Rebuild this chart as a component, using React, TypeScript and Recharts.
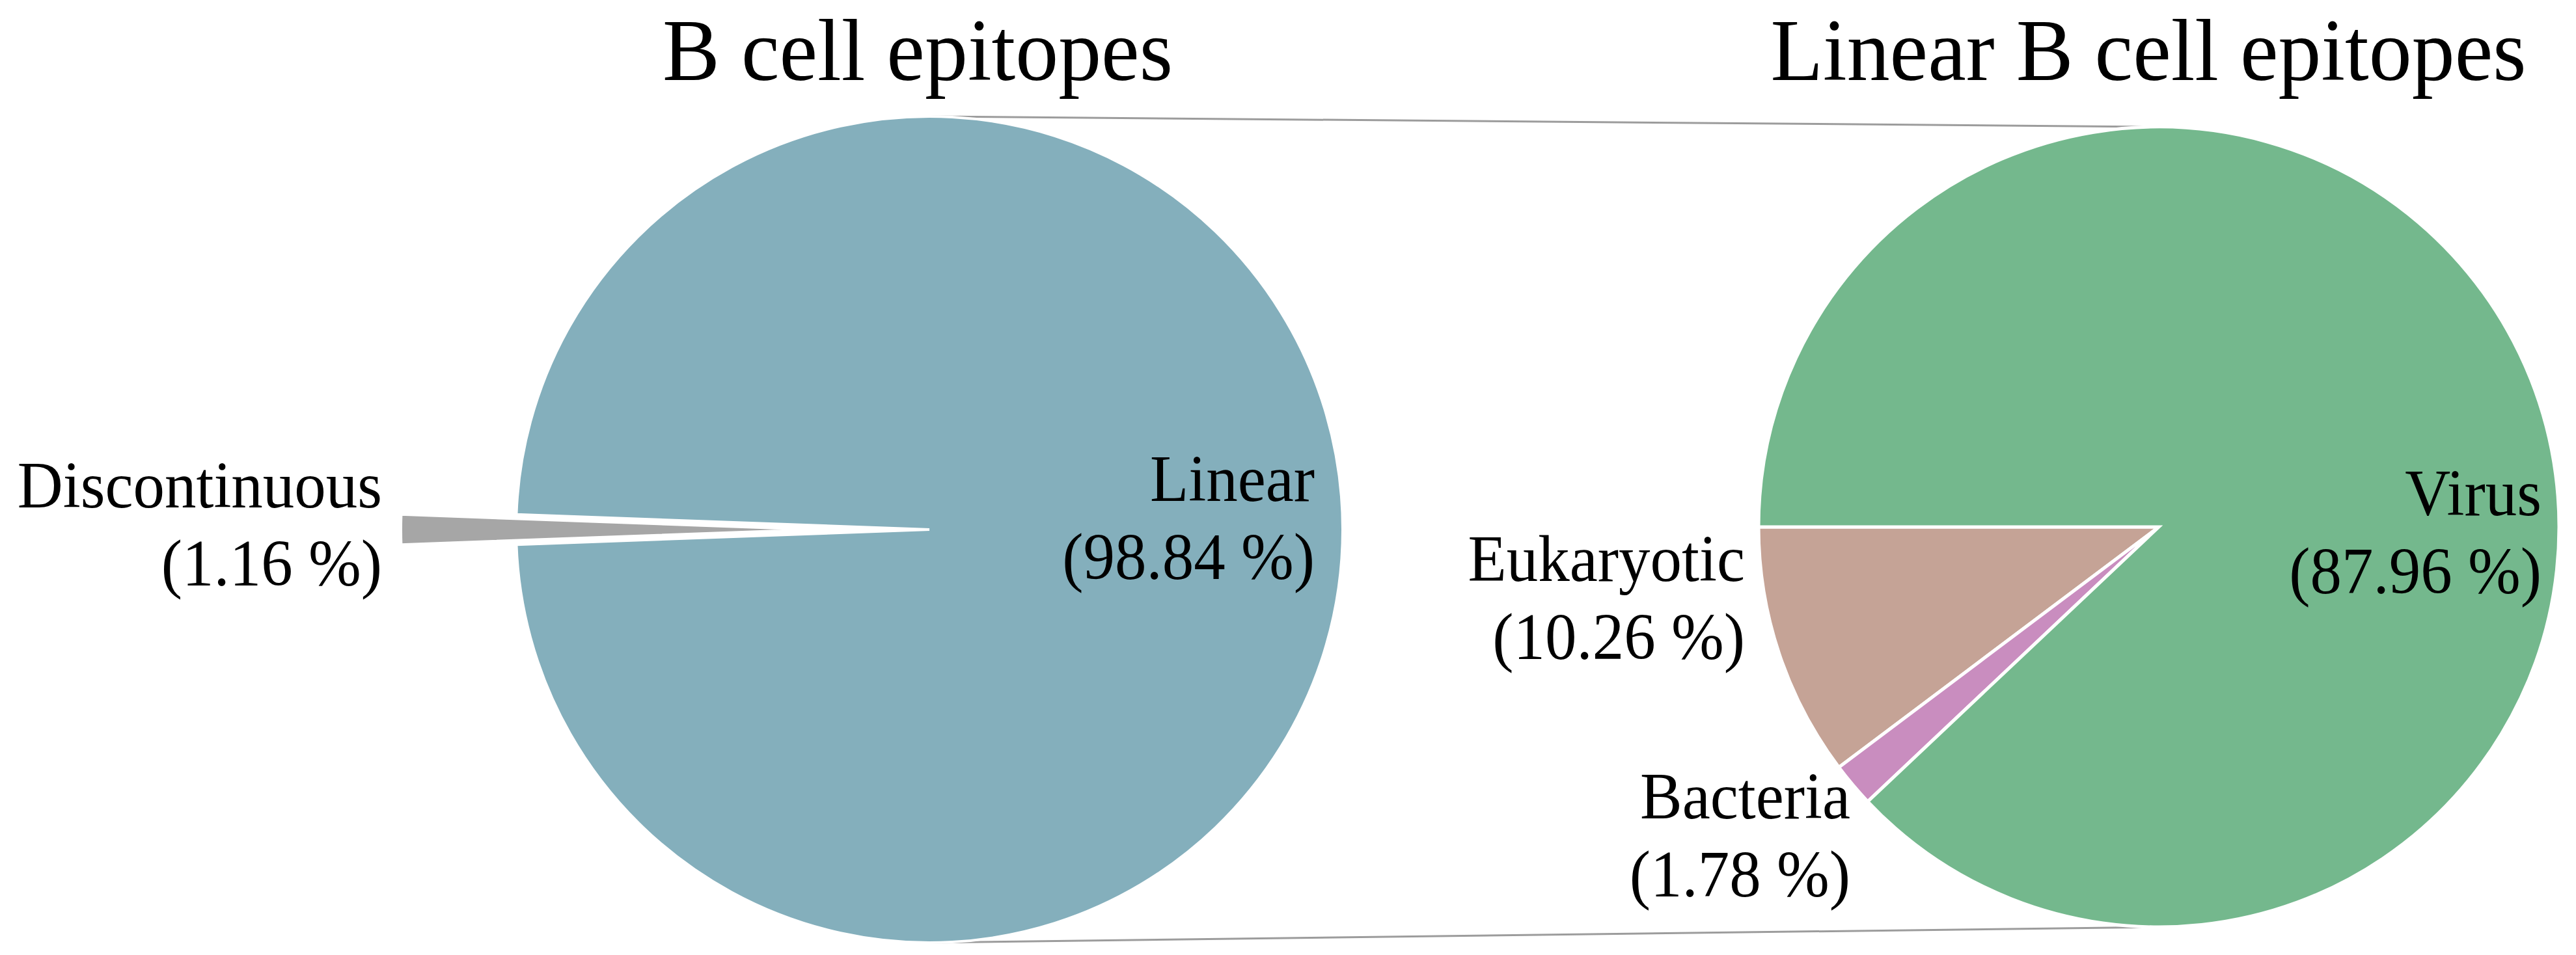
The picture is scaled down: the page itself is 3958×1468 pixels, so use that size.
import React from "react";
import { PieChart, Pie, Cell } from "recharts";

const W = 3958;
const H = 1468;

// left pie: all B cell epitopes
const epitopeNames = ["Discontinuous", "Linear"];
const epitopeValues = [1.16, 98.84];
const epitopeColors = ["#A6A6A6", "#84AFBC"];

// right pie: linear epitopes split by source
const sourceNames = ["Eukaryotic", "Bacteria", "Virus"];
const sourceValues = [10.26, 1.78, 87.96];
const sourceColors = ["#C5A396", "#C98DBF", "#74B88D"];

const titles = ["B cell epitopes", "Linear B cell epitopes"];

const epitopeData = epitopeNames.map((name, i) => ({ name, value: epitopeValues[i] }));
const sourceData = sourceNames.map((name, i) => ({ name, value: sourceValues[i] }));

// layout
const LEFT = { cx: 1428, cy: 814, r: 635 };
const RIGHT = { cx: 3317, cy: 810, r: 615 };
const EXPLODE = 177; // how far the discontinuous slice is pulled out to the left
const FONT = "'Liberation Serif', 'Times New Roman', serif";
const LINE_GAP = 120;

const labelPos: Record<string, [number, number]> = {
  Discontinuous: [587, 780],
  Linear: [2020, 770],
  Eukaryotic: [2681, 893],
  Bacteria: [2843, 1258],
  Virus: [3905, 792],
};

// discontinuous slice centred on 9 o'clock
const discAngle = (epitopeValues[0] / epitopeValues.reduce((a, b) => a + b, 0)) * 360;
const leftStart = 180 - discAngle / 2;

const makeLabel = (only: string[]) => (props: any) => {
  const name = props.name ?? props.payload?.name;
  if (!only.includes(name)) return null;
  const [x, y] = labelPos[name];
  const value = props.value ?? props.payload?.value;
  return (
    <g key={name}>
      <text
        transform={`translate(${x},${y}) scale(0.96,1)`}
        textAnchor="end"
        fontFamily={FONT}
        fontSize={101}
        fill="#000"
      >
        {name}
      </text>
      <text
        transform={`translate(${x},${y + LINE_GAP}) scale(0.96,1)`}
        textAnchor="end"
        fontFamily={FONT}
        fontSize={101}
        fill="#000"
      >
        {`(${Number(value).toFixed(2)} %)`}
      </text>
    </g>
  );
};

export default function App() {
  return (
    <div
      style={{
        position: "absolute",
        left: 0,
        top: 0,
        width: W,
        height: H,
        background: "#fff",
      }}
    >
      <svg
        width={W}
        height={H}
        style={{ position: "absolute", left: 0, top: 0 }}
      >
        <line
          x1={LEFT.cx}
          y1={LEFT.cy - LEFT.r}
          x2={RIGHT.cx}
          y2={RIGHT.cy - RIGHT.r}
          stroke="#9c9c9c"
          strokeWidth={3}
        />
        <line
          x1={LEFT.cx}
          y1={LEFT.cy + LEFT.r}
          x2={RIGHT.cx}
          y2={RIGHT.cy + RIGHT.r}
          stroke="#9c9c9c"
          strokeWidth={3}
        />
        {titles.map((t, i) => (
          <text
            key={t}
            transform={`translate(${i === 0 ? 1410 : 3301},123) scale(0.97,1)`}
            textAnchor="middle"
            fontFamily={FONT}
            fontSize={136}
            fill="#000"
          >
            {t}
          </text>
        ))}
      </svg>
      <div style={{ position: "absolute", left: 0, top: 0 }}>
        <PieChart width={W} height={H} margin={{ top: 0, right: 0, bottom: 0, left: 0 }}>
          {/* linear part of the left pie, discontinuous slot left empty */}
          <Pie
            data={epitopeData}
            dataKey="value"
            nameKey="name"
            cx={LEFT.cx}
            cy={LEFT.cy}
            outerRadius={LEFT.r}
            startAngle={leftStart}
            endAngle={leftStart + 360}
            isAnimationActive={false}
            label={makeLabel(["Linear"])}
            labelLine={false}
          >
            {epitopeData.map((d, i) => (
              <Cell
                key={d.name}
                fill={i === 0 ? "none" : epitopeColors[i]}
                stroke={i === 0 ? "none" : "#fff"}
                strokeWidth={4}
              />
            ))}
          </Pie>
          {/* exploded discontinuous slice */}
          <Pie
            data={epitopeData}
            dataKey="value"
            nameKey="name"
            cx={LEFT.cx - EXPLODE}
            cy={LEFT.cy}
            outerRadius={LEFT.r}
            startAngle={leftStart}
            endAngle={leftStart + 360}
            isAnimationActive={false}
            label={makeLabel(["Discontinuous"])}
            labelLine={false}
          >
            {epitopeData.map((d, i) => (
              <Cell
                key={d.name}
                fill={i === 0 ? epitopeColors[i] : "none"}
                stroke={i === 0 ? "#fff" : "none"}
                strokeWidth={4}
              />
            ))}
          </Pie>
          <Pie
            data={sourceData}
            dataKey="value"
            nameKey="name"
            cx={RIGHT.cx}
            cy={RIGHT.cy}
            outerRadius={RIGHT.r}
            startAngle={180}
            endAngle={540}
            isAnimationActive={false}
            label={makeLabel(sourceNames)}
            labelLine={false}
          >
            {sourceData.map((d, i) => (
              <Cell key={d.name} fill={sourceColors[i]} stroke="#fff" strokeWidth={5} />
            ))}
          </Pie>
        </PieChart>
      </div>
    </div>
  );
}
